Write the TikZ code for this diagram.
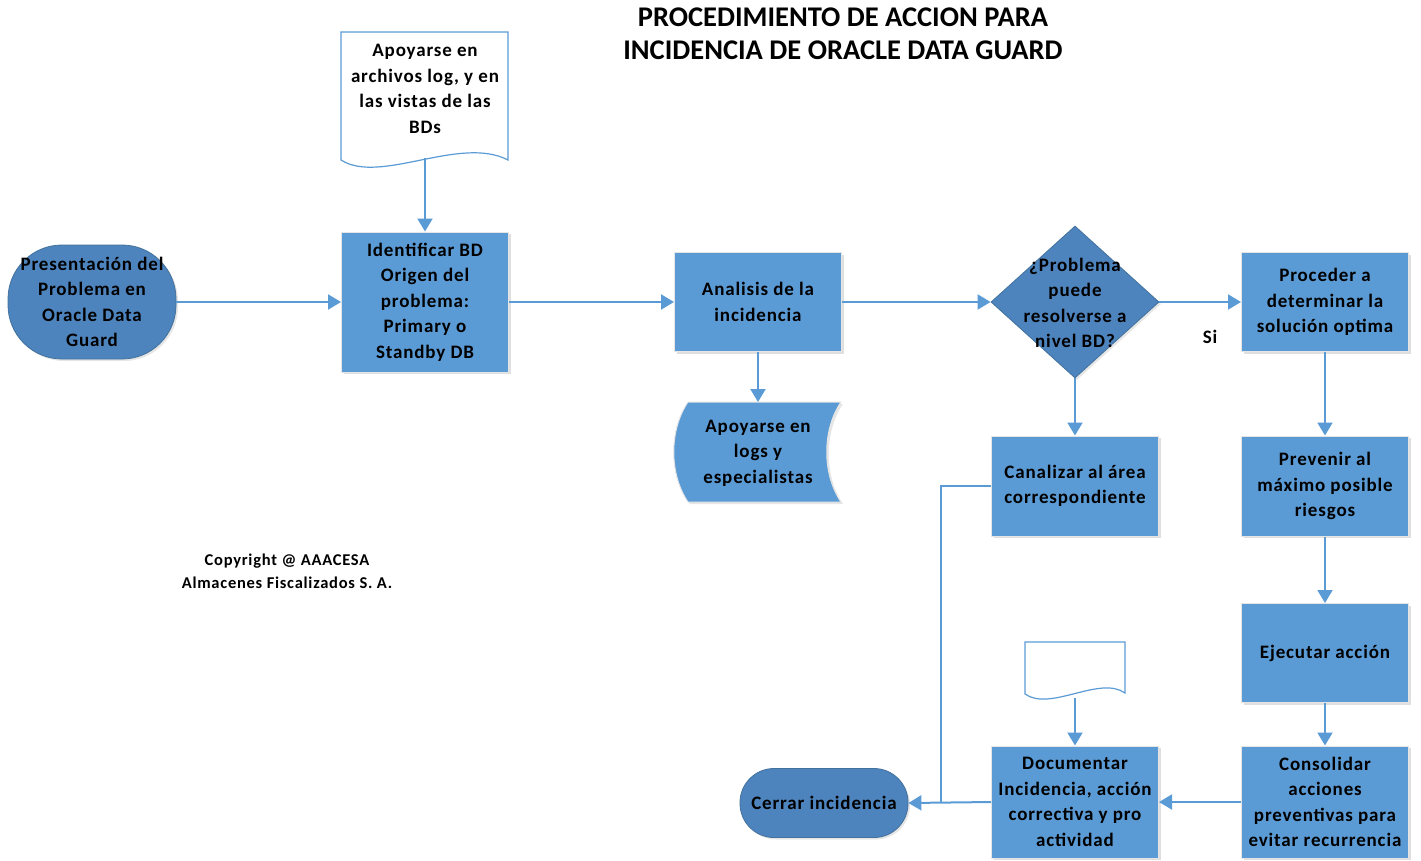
\documentclass[tikz,border=0pt]{standalone}
\usepackage{fontspec}
\setmainfont{Carlito}
\newfontfamily\spacedfont[LetterSpace=4.5]{Carlito}
\usetikzlibrary{shadows,arrows.meta,shapes.geometric}
\definecolor{boxblue}{HTML}{5B9BD5}
\definecolor{darkblue}{HTML}{4E84BE}
\definecolor{darkedge}{HTML}{41719C}
\definecolor{lineblue}{HTML}{5B9BD5}
\begin{document}
\begin{tikzpicture}[x=1pt,y=-1pt,
  txt/.style={font=\spacedfont\bfseries\fontsize{19}{25.5}\selectfont, align=center, text=black},
  proc/.style={txt, rectangle, fill=boxblue, draw=gray!20, line width=1pt, minimum width=167pt, inner sep=1pt,
    drop shadow={shadow xshift=2pt, shadow yshift=-2pt, opacity=0.25, fill=gray}},
  term/.style={txt, rectangle, fill=darkblue, draw=darkedge, line width=0.8pt, inner sep=1pt,
    drop shadow={shadow xshift=2pt, shadow yshift=-2pt, opacity=0.2, fill=gray}},
  flow/.style={draw=lineblue, line width=2pt, -{Triangle[length=13pt,width=15pt]}},
  plain/.style={draw=lineblue, line width=2pt},
  docshape/.style={draw=lineblue, line width=1.2pt, fill=white}
]
\useasboundingbox (0,0) rectangle (1421,860);

% title
\node[font=\bfseries\fontsize{28.5}{33}\selectfont, align=center] (title) at (843,34) {PROCEDIMIENTO DE ACCION PARA\\INCIDENCIA DE ORACLE DATA GUARD};

% copyright
\node[txt, font=\spacedfont\bfseries\fontsize{16.5}{23}\selectfont] (copy) at (287,571) {Copyright @ AAACESA\\Almacenes Fiscalizados S. A.};

% top document
\draw[docshape] (341,32) -- (508,32) -- (508,160) .. controls (460,135) and (380,185) .. (341,160) -- cycle;
\node[txt] (doc1) at (425,89) {Apoyarse en\\archivos log, y en\\las vistas de las\\BDs};
\coordinate (doc1b) at (425,158);

% small bottom document
\draw[docshape] (1025,642) -- (1125,642) -- (1125,693) .. controls (1100,675) and (1050,712) .. (1025,694) -- cycle;
\coordinate (doc2) at (1075,670);
\coordinate (doc2b) at (1075,698);

% stored data
\fill[gray, opacity=0.2] (690,404) -- (843,404) .. controls (824,432) and (824,476) .. (843,504) -- (690,504) .. controls (671,476) and (671,432) .. (690,404) -- cycle;
\draw[fill=boxblue, draw=gray!20, line width=1pt] (688,402) -- (841,402) .. controls (822,430) and (822,474) .. (841,502) -- (688,502) .. controls (669,474) and (669,430) .. (688,402) -- cycle;
\node[txt] (stored) at (758,453) {Apoyarse en\\logs y\\especialistas};
\coordinate (storedtop) at (758,402);

% terminals
\node[term, minimum width=168pt, minimum height=114pt, rounded corners=54pt] (pres) at (92,302) {Presentación del\\Problema en\\Oracle Data\\Guard};
\node[term, minimum width=168pt, minimum height=69pt, rounded corners=34pt] (cerrar) at (824,803) {Cerrar incidencia};

% processes
\node[proc, minimum height=140pt] (ident) at (425,302) {Identificar BD\\Origen del\\problema:\\Primary o\\Standby DB};
\node[proc, minimum height=99pt] (anal) at (758,302) {Analisis de la\\incidencia};
\node[proc, minimum height=99pt] (proc1) at (1325,302) {Proceder a\\determinar la\\solución optima};
\node[proc, minimum height=100pt] (prev) at (1325,486) {Prevenir al\\máximo posible\\riesgos};
\node[proc, minimum height=99pt] (ejec) at (1325,653) {Ejecutar acción};
\node[proc, minimum height=112pt] (cons) at (1325,802) {Consolidar\\acciones\\preventivas para\\evitar recurrencia};
\node[proc, minimum height=112pt] (docu) at (1075,802) {Documentar\\Incidencia, acción\\correctiva y pro\\actividad};
\node[proc, minimum height=100pt] (canal) at (1075,486) {Canalizar al área\\correspondiente};

% decision
\node[diamond, fill=darkblue, draw=darkedge, line width=0.8pt, minimum width=168pt, minimum height=152pt, inner sep=0pt,
  drop shadow={shadow xshift=2pt, shadow yshift=-2pt, opacity=0.2, fill=gray}] (dec) at (1075,302) {};
\node[txt] (dectxt) at (1075,303) {¿Problema\\puede\\resolverse a\\nivel BD?};
\node[txt] (si) at (1210,337) {Si};

% connectors
\draw[flow] (doc1b) -- (ident.north);
\draw[flow] (pres.east) -- (ident.west);
\draw[flow] (ident.east) -- (anal.west);
\draw[flow] (anal.south) -- (storedtop);
\draw[flow] (anal.east) -- (dec.west);
\draw[flow] (dec.east) -- (proc1.west);
\draw[flow] (dec.south) -- (canal.north);
\draw[flow] (proc1.south) -- (prev.north);
\draw[flow] (prev.south) -- (ejec.north);
\draw[flow] (ejec.south) -- (cons.north);
\draw[flow] (cons.west) -- (docu.east);
\draw[flow] (doc2b) -- (docu.north);
\coordinate (j) at (941,802);
\draw[plain] (canal.west) -| (j);
\draw[flow] (docu.west) -- (cerrar.east);
\end{tikzpicture}
\end{document}
